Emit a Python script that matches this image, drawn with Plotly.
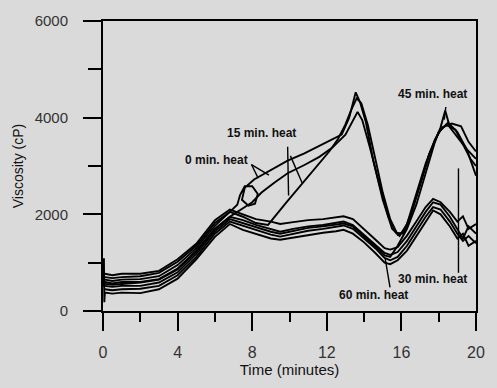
import plotly.graph_objects as go

# ---------------- data ----------------
time_b = [0.1, 0.5, 1, 2, 3, 4, 5, 6, 6.8, 7.5, 8.2, 9.0, 9.5, 10.2, 11.0, 11.8, 12.5,
          12.9, 13.4, 14.0, 14.6, 15.1, 15.4, 15.8, 16.3, 16.8, 17.3, 17.7, 18.1, 18.6,
          19.0, 19.3, 19.6, 20]
visc_30a = [770, 740, 770, 770, 830, 1070, 1390, 1880, 2100, 2000, 1900, 1850, 1800, 1840,
            1880, 1900, 1930, 1960, 1900, 1700, 1480, 1300, 1270, 1320, 1560, 1850, 2150,
            2320, 2250, 2050, 1850, 1960, 1700, 1800]
visc_30b = [560, 540, 560, 590, 650, 860, 1230, 1700, 1950, 1880, 1780, 1700, 1640, 1700,
            1750, 1780, 1820, 1850, 1780, 1580, 1380, 1200, 1160, 1220, 1450, 1750, 2050,
            2250, 2200, 1950, 1700, 1500, 1750, 1600]
visc_60a = [450, 430, 450, 460, 520, 740, 1120, 1600, 1850, 1760, 1680, 1580, 1540, 1600,
            1660, 1700, 1740, 1770, 1700, 1500, 1300, 1100, 1050, 1120, 1350, 1650, 1950,
            2150, 2100, 1850, 1600, 1450, 1550, 1400]
time_60b = [0.03, 0.05, 0.07] + time_b
visc_60b = [500, 1090, 180, 380, 360, 380, 370, 450, 670, 1070, 1535, 1800, 1680, 1600, 1500,
            1475, 1520, 1580, 1620, 1650, 1680, 1600, 1420, 1200, 1000, 970, 1050, 1250,
            1550, 1850, 2080, 2000, 1750, 1500, 1600, 1350, 1450]

time_45 = [0.1, 0.5, 1, 2, 3, 4, 5, 6, 6.8, 7.5, 8.2, 9.0, 9.5, 10.2, 11.0, 11.8, 12.5,
           12.9, 13.4, 14.0, 14.6, 15.1, 15.4, 15.8, 16.3, 16.8, 17.3, 17.8, 18.1, 18.35,
           18.6, 19.0, 19.5, 20]
visc_45 = [520, 500, 520, 520, 590, 800, 1180, 1650, 1900, 1820, 1740, 1640, 1600, 1660,
           1720, 1750, 1780, 1810, 1750, 1550, 1340, 1150, 1120, 1350, 1700, 2200, 2850,
           3500, 3800, 4150, 3800, 3600, 3350, 3150]

time_0 = [0.1, 0.5, 1, 2, 3, 4, 5, 6, 6.8, 7.2, 7.35, 7.6, 8.0, 8.3, 8.15, 7.8, 7.45, 7.6,
          8.1, 9.0, 9.9, 10.8, 11.6, 12.3, 12.8, 13.2, 13.55, 13.8, 14.1, 14.5, 15.0, 15.5,
          15.9, 16.3, 16.8, 17.3, 17.8, 18.2, 18.7, 19.2, 19.6, 20]
visc_0 = [650, 620, 650, 660, 720, 950, 1300, 1760, 2050, 2200, 2400, 2580, 2580, 2420, 2220,
          2180, 2300, 2550, 2720, 2920, 3110, 3260, 3410, 3550, 3650, 4000, 4525, 4300, 3900,
          3100, 2300, 1700, 1550, 1800, 2450, 3050, 3550, 3800, 3880, 3820, 3500, 3300]

time_15a = [0.1, 0.5, 1, 2, 3, 4, 5, 6, 6.8, 7.4, 8.0, 8.5, 9.2, 9.9, 10.8, 11.6, 12.3,
            13.0, 13.4, 13.65, 13.9, 14.3, 14.8, 15.3, 15.7, 16.1, 16.5, 17.0, 17.5, 18.0,
            18.4, 18.9, 19.3, 19.7, 20]
visc_15a = [600, 570, 600, 600, 660, 880, 1250, 1700, 1950, 2100, 2250, 2450, 2660, 2850,
            3020, 3190, 3380, 3650, 3950, 4120, 3950, 3400, 2650, 1950, 1620, 1600, 2000,
            2600, 3250, 3700, 3850, 3750, 3450, 3150, 3000]

time_15b = [0.1, 0.5, 1, 2, 3, 4, 5, 6, 6.8, 7.5, 8.2, 8.85, 9.8, 10.7, 11.5, 12.15, 12.6,
            13.0, 13.3, 13.6, 13.85, 14.2, 14.6, 15.0, 15.4, 15.8, 16.2, 16.6, 17.0, 17.5,
            18.0, 18.5, 19.0, 19.5, 20]
visc_15b = [700, 680, 700, 720, 790, 1020, 1350, 1820, 2050, 1950, 1820, 1780, 2230, 2650,
            3000, 3310, 3560, 3860, 4150, 4400, 4300, 3850, 3150, 2450, 1900, 1580, 1650,
            2100, 2600, 3250, 3700, 3900, 3700, 3350, 2800]

x_ticks = [0, 4, 8, 12, 16, 20]
y_ticks = [0, 2000, 4000, 6000]

labels = ["15 min. heat", "0 min. heat", "45 min. heat", "30 min. heat", "60 min. heat"]
label_t = [8.5, 6.1, 17.65, 17.65, 14.5]
label_v = [3680, 3130, 4480, 670, 330]

# leader lines: (t0, v0, t1, v1)
leaders = [
    (7.96, 3030, 8.32, 2750),
    (7.96, 3030, 8.9, 2810),
    (9.9, 3400, 9.95, 2390),
    (10.05, 3210, 10.68, 2650),
    (18.38, 4220, 18.3, 3960),
    (19.06, 790, 19.06, 2950),
    (15.39, 490, 15.13, 1090),
]

# ---------------- figure ----------------
FONT = "Liberation Sans, Arial, sans-serif"
fig = go.Figure()

series = [
    (time_b, visc_30a), (time_b, visc_30b), (time_b, visc_60a), (time_60b, visc_60b),
    (time_45, visc_45), (time_0, visc_0), (time_15a, visc_15a), (time_15b, visc_15b),
]
for t, v in series:
    fig.add_trace(go.Scatter(x=t, y=v, mode="lines",
                             line=dict(color="black", width=1.9),
                             showlegend=False, hoverinfo="skip"))

for (t0, v0, t1, v1) in leaders:
    fig.add_shape(type="line", xref="x", yref="y", x0=t0, y0=v0, x1=t1, y1=v1,
                  line=dict(color="black", width=1.4))

for txt, t, v in zip(labels, label_t, label_v):
    fig.add_annotation(x=t, y=v, xref="x", yref="y", text="<b>" + txt + "</b>",
                       showarrow=False, font=dict(family=FONT, size=12, color="#111"))

axis_common = dict(showline=True, linecolor="black", linewidth=2, mirror=True,
                   showgrid=False, zeroline=False, ticks="outside", tickcolor="black",
                   tickwidth=2)

fig.update_xaxes(range=[0, 20], tickvals=x_ticks, ticklen=18,
                 minor=dict(dtick=2, ticklen=9, tickwidth=2, ticks="outside", tickcolor="black"),
                 tickfont=dict(family=FONT, size=16, color="#333"),
                 ticklabelstandoff=8,
                 title=dict(text="Time (minutes)", standoff=4,
                            font=dict(family=FONT, size=15, color="#111")),
                 **axis_common)
fig.update_yaxes(range=[0, 6000], tickvals=y_ticks, ticklen=18,
                 minor=dict(dtick=1000, ticklen=13, tickwidth=2, ticks="outside", tickcolor="black"),
                 tickfont=dict(family=FONT, size=15, color="#333"),
                 ticklabelstandoff=12,
                 title=dict(text="Viscosity (cP)", standoff=8,
                            font=dict(family=FONT, size=14, color="#111")),
                 **axis_common)

fig.update_layout(width=497, height=388,
                  margin=dict(l=103, r=12, t=19, b=72),
                  paper_bgcolor="#dadada", plot_bgcolor="#dadada",
                  showlegend=False)

fig.write_html("out.html")
